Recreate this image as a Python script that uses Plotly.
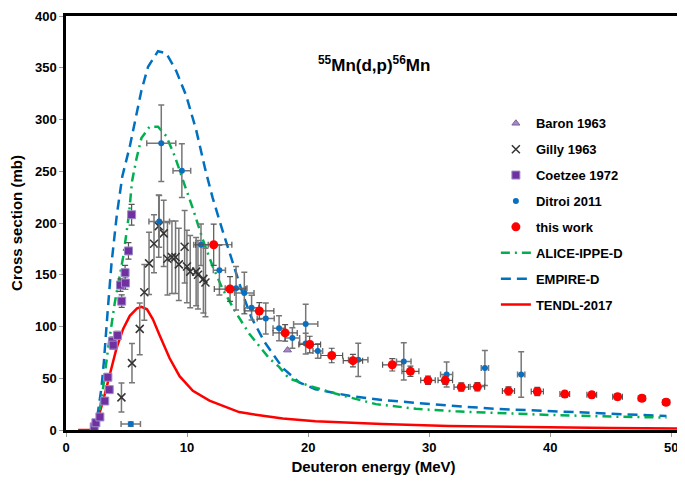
import plotly.graph_objects as go

# ---------------- data ----------------
# Baron 1963
baron_E = [18.3]
baron_s = [77.2]

# Gilly 1963
gilly_E = [4.58, 5.45, 6.09, 6.47, 6.86, 7.27, 7.66, 8.07, 8.38, 8.75, 9.05, 9.32, 9.80, 9.99, 10.26, 10.75, 10.90, 11.35, 11.52]
gilly_s = [31.5, 64.6, 97.7, 133, 161, 180, 197, 190, 165.5, 167, 167, 160, 177, 158, 153, 153, 150, 146, 142.5]
gilly_err = [14, 19, 25, 27, 30, 28, 30, 32, 35, 35, 35, 35, 35, 35, 35, 33, 33, 33, 33]

# Coetzee 1972
coetzee_E = [2.33, 2.47, 2.80, 3.20, 3.46, 3.57, 3.85, 3.90, 4.26, 4.50, 4.60, 4.88, 4.91, 5.16, 5.42]
coetzee_s = [3, 7, 12.6, 28, 51, 39, 85.8, 82, 91.4, 140, 124.5, 152, 142, 173, 208]
coetzee_err = [1, 1, 1, 2, 3, 3, 4, 4, 4, 6, 6, 7, 6, 8, 10]

# Ditroi 2011
ditroi_E = [5.35, 7.70, 7.87, 9.57, 11.15, 12.67, 14.05, 14.73, 15.33, 16.50, 17.60, 18.70, 19.80, 19.80, 20.80, 24.14, 27.90, 31.44, 34.60, 37.60]
ditroi_s = [5.7, 201.5, 277, 250.6, 179, 154.4, 137, 132.4, 118.2, 107.8, 98.3, 88.9, 102.4, 83.5, 76.3, 67.8, 66.2, 53.6, 59.9, 53.6]
ditroi_ey = [2, 25, 37, 26, 20, 24, 21, 20, 12, 15, 12, 10, 19, 10, 7, 16, 18, 12, 17, 22]
ditroi_ex = [0.8, 0.85, 1.2, 0.73, 0.6, 0.5, 0.9, 0.8, 0.6, 0.7, 0.5, 0.6, 1.0, 0.5, 0.4, 0.8, 0.6, 0.5, 0.3, 0.3]

# this work
work_E = [12.2, 13.55, 15.97, 18.1, 20.13, 21.95, 23.7, 26.95, 28.45, 29.9, 31.33, 32.65, 33.98, 36.55, 38.93, 41.2, 43.43, 45.56, 47.57, 49.57]
work_s = [179, 136.2, 115, 93.8, 82.6, 72, 67, 63, 56.7, 48, 48, 41.5, 41.8, 37.8, 37.2, 34.7, 34, 32.2, 30.6, 26.8]
work_ey = [20, 12, 8, 8, 8, 7, 6, 6, 5, 4, 4, 4, 4, 4, 4, 3, 3, 3, 3, 3]
work_ex = [1.5, 1.3, 1.2, 1.0, 0.9, 0.9, 0.8, 0.8, 0.7, 0.6, 0.6, 0.6, 0.6, 0.5, 0.5, 0.4, 0.4, 0.4, 0.3, 0.3]

# ALICE-IPPE-D
alice_E = [2.3, 2.66, 3.07, 3.48, 4.03, 4.72, 5.2, 5.45, 5.82, 6.23, 6.9, 7.6, 8.28, 8.97, 9.7, 10.48, 11.3, 12.12, 12.95, 14.05, 15.14, 16.0, 16.8, 17.6, 18.4, 20.1, 22.6, 25.6, 28.9, 32.2, 35.4, 40.0, 45.0, 49.6]
alice_s = [0, 9.5, 41, 79, 123, 167, 208, 240, 262, 282, 293, 293, 284, 265, 240, 214, 184, 158, 136, 113, 93, 80, 69, 61, 50, 42.6, 34, 25, 20.5, 18, 16.4, 14.5, 13, 12]

# EMPIRE-D
empire_E = [2.0, 2.5, 2.93, 3.13, 3.43, 3.76, 4.2, 4.65, 5.27, 5.68, 6.23, 6.78, 7.6, 8.28, 9.1, 9.93, 10.75, 11.5, 12.12, 12.95, 13.77, 14.7, 15.3, 16.4, 17.9, 19.26, 20.6, 23.4, 26.1, 28.9, 31.6, 35.4, 40.0, 45.0, 49.6]
empire_s = [0, 6, 41, 66, 113, 161, 208, 245, 274, 298, 328, 351, 366, 364, 347, 323, 290, 252, 224, 192, 161, 128, 109, 85, 60, 46, 39.4, 33, 29, 26, 23.6, 20.5, 18, 15.5, 13.5]

# TENDL-2017
tendl_E = [1.0, 2.0, 2.52, 3.07, 3.62, 4.17, 4.72, 5.27, 5.87, 6.23, 6.69, 7.18, 7.74, 8.56, 9.38, 10.48, 11.85, 13.2, 14.3, 15.97, 17.9, 20.6, 26.1, 31.6, 35.4, 40.0, 45.0, 50.8]
tendl_s = [0, 0, 6.3, 28.4, 53.6, 78.8, 97.7, 110.3, 117.5, 119, 116.6, 107, 91.4, 69.3, 52, 37.8, 28.4, 22.7, 17.3, 14.2, 11, 8.5, 5.7, 3.8, 3.1, 2.5, 2.0, 1.5]

x_ticks = [0, 10, 20, 30, 40, 50]
x_labels = ["<b>0</b>", "<b>10</b>", "<b>20</b>", "<b>30</b>", "<b>40</b>", "<b>50</b>"]
y_ticks = [0, 50, 100, 150, 200, 250, 300, 350, 400]
y_labels = ["<b>%d</b>" % v for v in y_ticks]

FONT = "Liberation Sans, Arial, sans-serif"

fig = go.Figure()

# model curves first (drawn below points)
fig.add_trace(go.Scatter(x=tendl_E, y=tendl_s, mode="lines", name="<b>TENDL-2017</b>",
                         line=dict(color="#FF0000", width=2.5), legendrank=8, legendgroup="g8"))
fig.add_trace(go.Scatter(x=empire_E, y=empire_s, mode="lines", name="<b>EMPIRE-D</b>",
                         line=dict(color="#0070C0", width=2.5, dash="10px,6px"), legendrank=7, legendgroup="g7"))
fig.add_trace(go.Scatter(x=alice_E, y=alice_s, mode="lines", name="<b>ALICE-IPPE-D</b>",
                         line=dict(color="#00B050", width=2.5, dash="9px,5px,2px,5px"), legendrank=6, legendgroup="g6"))

fig.add_trace(go.Scatter(x=gilly_E, y=gilly_s, mode="markers", name="<b>Gilly 1963</b>",
                         marker=dict(symbol="x-thin-open", size=8, color="#333333", line=dict(width=1.5, color="#333333")),
                         error_y=dict(type="data", array=gilly_err, color="#777777", thickness=1.5, width=3),
                         legendrank=2, legendgroup="g2"))
fig.add_trace(go.Scatter(x=coetzee_E, y=coetzee_s, mode="markers", name="<b>Coetzee 1972</b>",
                         marker=dict(symbol="square", size=8, color="#7030A0", line=dict(width=1, color="#9C8FC8")),
                         error_y=dict(type="data", array=coetzee_err, color="#555555", thickness=1.2, width=3),
                         legendrank=3, legendgroup="g3"))
fig.add_trace(go.Scatter(x=ditroi_E, y=ditroi_s, mode="markers", name="<b>Ditroi 2011</b>",
                         marker=dict(symbol="circle", size=6, color="#0B6FC1"),
                         error_y=dict(type="data", array=ditroi_ey, color="#777777", thickness=1.5, width=3),
                         error_x=dict(type="data", array=ditroi_ex, color="#777777", thickness=1.5, width=3),
                         legendrank=4, legendgroup="g4"))
fig.add_trace(go.Scatter(x=baron_E, y=baron_s, mode="markers", name="<b>Baron 1963</b>",
                         marker=dict(symbol="triangle-up", size=7, color="#A58BC4", line=dict(width=1, color="#7B5E9B")),
                         legendrank=1, legendgroup="g1"))
fig.add_trace(go.Scatter(x=work_E, y=work_s, mode="markers", name="<b>this work</b>",
                         marker=dict(symbol="circle", size=9, color="#FF0000"),
                         error_y=dict(type="data", array=work_ey, color="#555555", thickness=1.2, width=3),
                         error_x=dict(type="data", array=work_ex, color="#555555", thickness=1.2, width=3),
                         legendrank=5, legendgroup="g5"))

# Page has a default 8px body margin: the figure is sized and placed to compensate.
fig.update_layout(
    width=677, height=477,
    margin=dict(l=58, r=2, t=1, b=55),
    paper_bgcolor="white", plot_bgcolor="white",
    font=dict(family=FONT, size=13, color="black"),
    showlegend=True,
    legend=dict(x=0.699, y=0.777, xanchor="left", yanchor="top",
                bgcolor="rgba(0,0,0,0)", borderwidth=0,
                font=dict(family=FONT, size=13, color="black"),
                traceorder="grouped", tracegroupgap=6, itemwidth=30),
    xaxis=dict(range=[0, 50.8], tickmode="array", tickvals=x_ticks, ticktext=x_labels,
               tickfont=dict(family=FONT, size=13),
               showline=True, linewidth=2.5, linecolor="black", mirror=True,
               ticks="outside", ticklen=4, tickcolor="#999999",
               showgrid=False, zeroline=False,
               title=dict(text="<b>Deuteron energy (MeV)</b>", font=dict(size=15), standoff=8)),
    yaxis=dict(range=[0, 400], tickmode="array", tickvals=y_ticks, ticktext=y_labels,
               tickfont=dict(family=FONT, size=13),
               ticklabeloverflow="allow",
               showline=True, linewidth=2.5, linecolor="black", mirror=True,
               ticks="outside", ticklen=4, tickcolor="#999999",
               showgrid=False, zeroline=False,
               title=dict(text="<b>Cross section (mb)</b>", font=dict(size=15), standoff=10)),
)

fig.add_annotation(x=(375 - 66) / 617, y=(430 - 57) / 422, xref="paper", yref="paper",
                   text="<b><sup>55</sup>Mn(d,p)<sup>56</sup>Mn</b>", showarrow=False,
                   font=dict(family=FONT, size=17, color="black"),
                   xanchor="center", yanchor="middle")

fig.write_html("out.html", config={"displayModeBar": False})
